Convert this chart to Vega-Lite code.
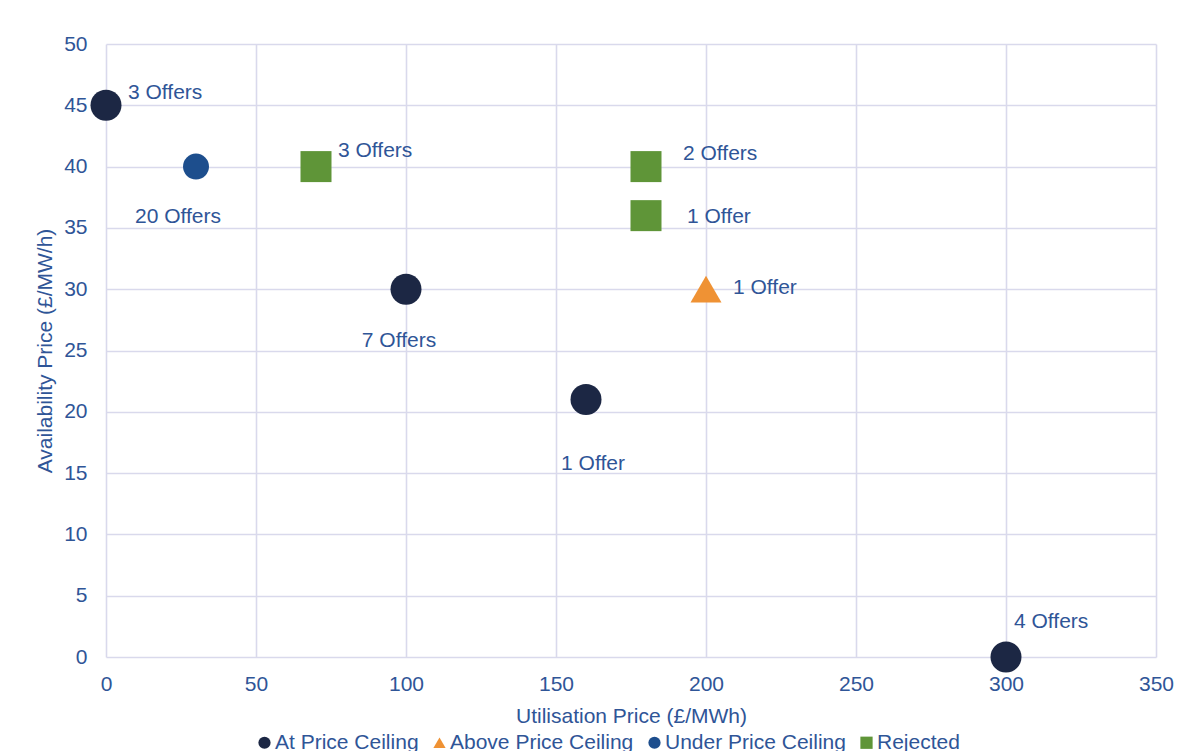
{
  "$schema": "https://vega.github.io/schema/vega-lite/v6.json",
  "width": 1050,
  "height": 613,
  "autosize": {"type": "none"},
  "padding": {"left": 106, "top": 44, "right": 44, "bottom": 94},
  "background": "white",
  "config": {
    "view": {"stroke": null},
    "font": "Liberation Sans",
    "axis": {
      "labelFont": "Liberation Sans",
      "titleFont": "Liberation Sans",
      "labelFontSize": 21,
      "titleFontSize": 21,
      "titleFontWeight": "normal",
      "labelColor": "#2F5597",
      "titleColor": "#2F5597",
      "gridColor": "#d9d9ec",
      "gridWidth": 1.6,
      "gridOpacity": 1,
      "domain": false,
      "ticks": false,
      "labelFlush": false
    },
    "legend": {
      "labelFont": "Liberation Sans",
      "labelFontSize": 21,
      "labelColor": "#2F5597",
      "labelLimit": 0,
      "symbolSize": 150,
      "labelOffset": 0,
      "columnPadding": 10,
      "padding": 0,
      "symbolStrokeWidth": 0
    }
  },
  "data": {
    "values": [
      {"id": "a", "util": 0, "avail": 45, "status": "At Price Ceiling", "label": "3 Offers"},
      {"id": "b", "util": 30, "avail": 40, "status": "Under Price Ceiling", "label": "20 Offers"},
      {"id": "c", "util": 70, "avail": 40, "status": "Rejected", "label": "3 Offers"},
      {"id": "d", "util": 100, "avail": 30, "status": "At Price Ceiling", "label": "7 Offers"},
      {"id": "e", "util": 180, "avail": 40, "status": "Rejected", "label": "2 Offers"},
      {"id": "f", "util": 180, "avail": 36, "status": "Rejected", "label": "1 Offer"},
      {"id": "g", "util": 200, "avail": 30, "status": "Above Price Ceiling", "label": "1 Offer"},
      {"id": "h", "util": 160, "avail": 21, "status": "At Price Ceiling", "label": "1 Offer"},
      {"id": "i", "util": 300, "avail": 0, "status": "At Price Ceiling", "label": "4 Offers"}
    ]
  },
  "encoding": {
    "x": {
      "field": "util", "type": "quantitative",
      "scale": {"domain": [0, 350], "nice": false, "zero": false},
      "axis": {"values": [0, 50, 100, 150, 200, 250, 300, 350], "title": "Utilisation Price (£/MWh)", "labelPadding": 16, "titlePadding": 11}
    },
    "y": {
      "field": "avail", "type": "quantitative",
      "scale": {"domain": [0, 50], "nice": false, "zero": false},
      "axis": {"values": [0, 5, 10, 15, 20, 25, 30, 35, 40, 45, 50], "title": "Availability Price (£/MW/h)", "labelPadding": 19, "titlePadding": 8}
    }
  },
  "layer": [
    {
      "mark": {"type": "point", "filled": true, "opacity": 1, "clip": false},
      "encoding": {
        "color": {
          "field": "status", "type": "nominal",
          "scale": {
            "domain": ["At Price Ceiling", "Above Price Ceiling", "Under Price Ceiling", "Rejected"],
            "range": ["#1c2744", "#ef9234", "#1d4e8d", "#5f9538"]
          },
          "legend": {"orient": "none", "legendX": 148, "legendY": 688, "direction": "horizontal", "title": null}
        },
        "shape": {
          "field": "status", "type": "nominal",
          "scale": {
            "domain": ["At Price Ceiling", "Above Price Ceiling", "Under Price Ceiling", "Rejected"],
            "range": ["circle", "triangle-up", "circle", "square"]
          },
          "legend": {"orient": "none", "legendX": 148, "legendY": 688, "direction": "horizontal", "title": null}
        },
        "size": {
          "condition": {"test": "datum.status === 'Under Price Ceiling'", "value": 676},
          "value": 961
        }
      }
    },
    {
      "transform": [{"filter": "datum.id === 'a'"}],
      "mark": {"type": "text", "align": "left", "dx": 22, "dy": -12, "fontSize": 21, "color": "#2F5597", "font": "Liberation Sans"},
      "encoding": {"text": {"field": "label"}}
    },
    {
      "transform": [{"filter": "datum.id === 'b'"}],
      "mark": {"type": "text", "align": "center", "dx": -18, "dy": 50, "fontSize": 21, "color": "#2F5597", "font": "Liberation Sans"},
      "encoding": {"text": {"field": "label"}}
    },
    {
      "transform": [{"filter": "datum.id === 'c'"}],
      "mark": {"type": "text", "align": "left", "dx": 22, "dy": -16, "fontSize": 21, "color": "#2F5597", "font": "Liberation Sans"},
      "encoding": {"text": {"field": "label"}}
    },
    {
      "transform": [{"filter": "datum.id === 'd'"}],
      "mark": {"type": "text", "align": "center", "dx": -7, "dy": 52, "fontSize": 21, "color": "#2F5597", "font": "Liberation Sans"},
      "encoding": {"text": {"field": "label"}}
    },
    {
      "transform": [{"filter": "datum.id === 'e'"}],
      "mark": {"type": "text", "align": "left", "dx": 37, "dy": -13, "fontSize": 21, "color": "#2F5597", "font": "Liberation Sans"},
      "encoding": {"text": {"field": "label"}}
    },
    {
      "transform": [{"filter": "datum.id === 'f'"}],
      "mark": {"type": "text", "align": "left", "dx": 41, "dy": 1, "fontSize": 21, "color": "#2F5597", "font": "Liberation Sans"},
      "encoding": {"text": {"field": "label"}}
    },
    {
      "transform": [{"filter": "datum.id === 'g'"}],
      "mark": {"type": "text", "align": "left", "dx": 27, "dy": -1, "fontSize": 21, "color": "#2F5597", "font": "Liberation Sans"},
      "encoding": {"text": {"field": "label"}}
    },
    {
      "transform": [{"filter": "datum.id === 'h'"}],
      "mark": {"type": "text", "align": "center", "dx": 7, "dy": 64, "fontSize": 21, "color": "#2F5597", "font": "Liberation Sans"},
      "encoding": {"text": {"field": "label"}}
    },
    {
      "transform": [{"filter": "datum.id === 'i'"}],
      "mark": {"type": "text", "align": "left", "dx": 8, "dy": -35, "fontSize": 21, "color": "#2F5597", "font": "Liberation Sans"},
      "encoding": {"text": {"field": "label"}}
    }
  ]
}
